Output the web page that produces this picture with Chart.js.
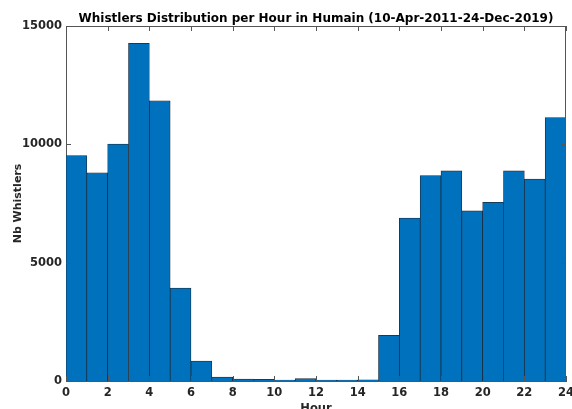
<!DOCTYPE html>
<html>
<head>
<meta charset="utf-8">
<script src="https://cdn.jsdelivr.net/npm/chart.js@4/dist/chart.umd.min.js"></script>
<style>
  html, body { margin: 0; padding: 0; background: #fff; }
  #wrap { width: 572px; height: 409px; position: relative; }
</style>
</head>
<body>
<div id="wrap"><canvas id="c" width="572" height="409"></canvas></div>
<script>
// Bin centers (hour of day) and counts per bin
const hourBins = [0.5, 1.5, 2.5, 3.5, 4.5, 5.5, 6.5, 7.5, 8.5, 9.5, 10.5, 11.5,
                  12.5, 13.5, 14.5, 15.5, 16.5, 17.5, 18.5, 19.5, 20.5, 21.5, 22.5, 23.5];
const whistlerCounts = [9520, 8800, 10010, 14270, 11840, 3930, 845, 170, 80, 70, 40, 100,
                        40, 40, 50, 1930, 6880, 8680, 8880, 7190, 7550, 8880, 8530, 11130];
const xTickValues = [0, 2, 4, 6, 8, 10, 12, 14, 16, 18, 20, 22, 24];
const yTickValues = [0, 5000, 10000, 15000];
const chartTitle = 'Whistlers Distribution per Hour in Humain (10-Apr-2011-24-Dec-2019)';
const xTitle = 'Hour';
const yTitle = 'Nb Whistlers';

const FONT = "'DejaVu Sans', sans-serif";
const TXT = '#262626';

const boxTicks = {
  id: 'boxTicks',
  afterDraw(chart) {
    const { ctx, chartArea: a, scales } = chart;
    const L = 5;
    ctx.save();
    ctx.strokeStyle = '#555';
    ctx.lineWidth = 1;
    ctx.beginPath();
    ctx.moveTo(Math.round(a.left) + 0.5, Math.round(a.top) + 0.5);
    ctx.lineTo(Math.round(a.right) - 0.5, Math.round(a.top) + 0.5);
    ctx.lineTo(Math.round(a.right) - 0.5, Math.round(a.bottom) + 0.5);
    xTickValues.forEach(v => {
      const px = Math.round(scales.x.getPixelForValue(v)) + 0.5;
      ctx.moveTo(px, a.bottom); ctx.lineTo(px, a.bottom - L);
      ctx.moveTo(px, a.top); ctx.lineTo(px, a.top + L);
    });
    yTickValues.forEach(v => {
      const py = Math.round(scales.y.getPixelForValue(v)) + 0.5;
      ctx.moveTo(a.left, py); ctx.lineTo(a.left + L, py);
      ctx.moveTo(a.right, py); ctx.lineTo(a.right - L, py);
    });
    ctx.stroke();
    ctx.restore();
  }
};

new Chart(document.getElementById('c'), {
  type: 'bar',
  data: {
    datasets: [{
      data: hourBins.map((h, i) => ({ x: h, y: whistlerCounts[i] })),
      backgroundColor: '#0072BD',
      borderColor: '#1b2a3a',
      borderWidth: 0.75,
      borderSkipped: 'start',
      barPercentage: 1,
      categoryPercentage: 1
    }]
  },
  options: {
    responsive: false,
    animation: false,
    devicePixelRatio: 1,
    layout: { padding: { left: 0, right: 6, top: 0, bottom: 0 } },
    plugins: {
      legend: { display: false },
      tooltip: { enabled: false },
      title: {
        display: true,
        text: chartTitle,
        fullSize: false,
        color: '#000',
        font: { family: FONT, size: 12, weight: 'bold' },
        padding: { top: 11.4, bottom: 0.2 }
      }
    },
    scales: {
      x: {
        type: 'linear',
        min: 0, max: 24,
        offset: false,
        afterBuildTicks: s => { s.ticks = xTickValues.map(v => ({ value: v })); },
        afterFit: s => { s.height = 28; s.paddingLeft = 0; s.paddingRight = 0; },
        grid: { display: false, drawTicks: false, offset: false },
        border: { display: true, color: '#555', width: 1 },
        ticks: {
          autoSkip: false, maxRotation: 0,
          color: TXT, padding: 5,
          callback: v => String(v),
          font: { family: FONT, size: 11.5, weight: 'bold' }
        },
        title: {
          display: true, text: xTitle, color: TXT,
          font: { family: FONT, size: 11.5, weight: 'bold' },
          padding: { top: 0, bottom: -7.4 }
        }
      },
      y: {
        min: 0, max: 15000,
        afterBuildTicks: s => { s.ticks = yTickValues.map(v => ({ value: v })); },
        afterFit: s => { s.width = 66; s.paddingTop = 0; s.paddingBottom = 0; },
        grid: { display: false, drawTicks: false },
        border: { display: true, color: '#555', width: 1 },
        ticks: {
          color: TXT, padding: 4,
          callback: v => String(v),
          font: { family: FONT, size: 11.5, weight: 'bold' }
        },
        title: {
          display: true, text: yTitle, color: TXT,
          font: { family: FONT, size: 11, weight: 'bold' },
          padding: { top: 12, bottom: 0 }
        }
      }
    }
  },
  plugins: [boxTicks]
});
</script>
</body>
</html>
